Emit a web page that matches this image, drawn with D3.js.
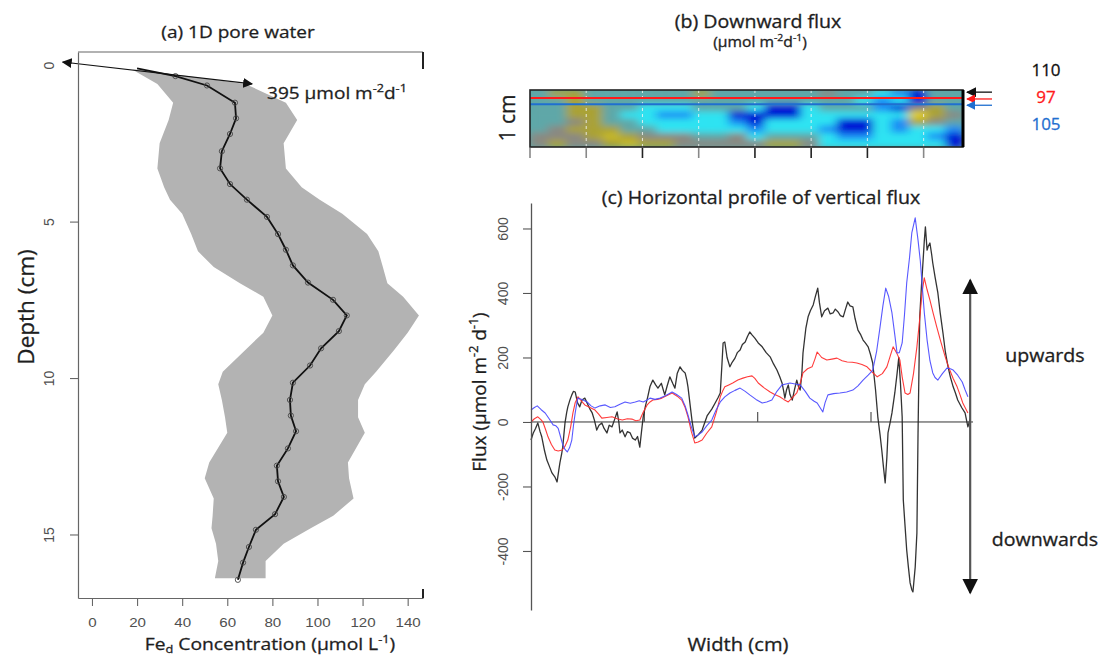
<!DOCTYPE html>
<html>
<head>
<meta charset="utf-8">
<script src="https://cdn.jsdelivr.net/npm/d3@7"></script>
<style>
  body { margin: 0; background: #fff; }
  svg { display: block; }
  .lbl { font-family: "Open Sans", Lato, sans-serif; fill: #1e1e1e; stroke: #1e1e1e; stroke-width: 0.3px; }
  .tick-r { font-family: "Liberation Sans", Arial, sans-serif; fill: #505050; font-size: 14px; }
  .tick-b { font-size: 13.5px; }
</style>
</head>
<body>
<svg id="chart" width="1099" height="657"></svg>
<script>
// ---------- (a) 1D pore water profile ----------
const profileDepth = [0.1, 0.35, 0.65, 1.2, 1.7, 2.2, 2.75, 3.3, 3.8, 4.3, 4.85, 5.4, 5.9, 6.4, 6.95, 7.5,
  8.0, 8.5, 9.05, 9.6, 10.15, 10.7, 11.2, 11.7, 12.25, 12.8, 13.3, 13.8, 14.35, 14.85, 15.4, 15.9, 16.45];
const profileConc = [20, 37, 51, 63.4, 63.9, 61.2, 57.6, 56.8, 61.2, 68.7, 77.6, 82.5, 86, 89.1, 95.8, 106.9,
  113, 109.5, 101.6, 96.7, 89.1, 87.8, 88.2, 90.5, 86.9, 82, 82.5, 85.1, 81.2, 72.7, 69.6, 67, 64.7];

const bandDepth = [0.15, 0.6, 1.2, 1.75, 2.5, 3.3, 3.9, 4.3, 4.75, 5.4, 5.95, 6.45, 6.97, 7.4, 8.0, 8.55,
  9.1, 9.8, 10.2, 10.7, 11.25, 11.75, 12.7, 13.2, 13.85, 14.4, 14.8, 15.3, 15.85, 16.4];
const bandLow = [18, 29, 36, 34, 30, 29, 32, 34.6, 40, 44, 47, 54, 65.6, 76, 80, 76,
  68, 58, 56, 57.6, 59, 60, 52, 50, 54, 53.5, 53, 55, 56, 54.5];
const bandHigh = [22, 68, 86, 91, 85, 86, 93, 101, 111, 122, 127, 129, 131, 138, 145, 140,
  134, 126, 121, 118, 118, 121, 113.5, 114, 116, 107, 97, 85, 77, 77];

const depthTicks = [0, 5, 10, 15];
const concTicks = [0, 20, 40, 60, 80, 100, 120, 140];
// surface gradient annotation (concentration, depth)
const gradientArrow = [[-13, -0.1], [71, 0.6]];

// ---------- (b) downward flux image ----------
// rows run from the sediment surface downwards, columns across the width
const heatGrid = [
  [0.6,-1,-1,0.6,0.6,0.6,0.6,0.6,0.6,-1,0.6,0.6,0.6,0.6,0.6,0.6,0,0.6,0.6,1.5,2.2,3,0.6,0.6],
  [0.6,0.6,-1,0.6,0.6,0.6,0.6,0.6,0.6,0.6,0.6,0.6,0.6,0.6,0.6,0.6,0.6,0.6,1.5,2.2,1.5,3,0.6,0.6],
  [0.6,0.6,-1,-1,0.6,0.6,1.5,1.5,1.5,0.6,0.6,0.6,1.5,3,3,1.5,0.6,0.6,0.6,2.2,3,0,-1,0.6],
  [0.6,0.6,-1,-1,0.6,1.5,1.5,2.2,2.2,1.5,1.5,3,3,3,3,1.5,1.5,1.5,1.5,1.5,1.5,-2,-1,0],
  [0.6,0.6,0,-1,0.6,0.6,1.5,1.5,1.5,1.5,1.5,2.2,3,1.5,1.5,1.5,1.5,3,3,1.5,2.2,-1,0,0.6],
  [0.6,0,-1,-1,-1,0.6,0.6,1.5,1.5,1.5,1.5,1.5,2.2,1.5,1.5,1.5,2.2,3,3,1.5,2.2,1.5,1.5,2.2],
  [0,0,0,-1,-1.5,-1,0,0,0,0.6,0.6,0,1.5,0.6,0.6,0.6,1.5,2.2,2.2,1.5,1.5,1.5,2.2,3],
  [0,-1,0,0,-1,-1.5,-1,-1,0,0,0,0,0,-1,-1,0,1.5,1.5,1.5,1.5,1.5,1.5,1.5,3]
];
const heatWidthCm = 7.7;
const heatTicks = [0, 1, 2, 3, 4, 5, 6, 7];
const sliceDepth = [0.02, 0.14, 0.25];          // cm below the surface
const sliceFlux = ["110", "97", "105"];
const sliceColor = ["#111111", "#ff1a1a", "#1f6fd0"];

// ---------- (c) horizontal profile of vertical flux ----------
const blackWidth = [0.00,0.04,0.08,0.12,0.16,0.19,0.24,0.28,0.33,0.37,0.42,0.46,0.49,0.51,0.54,0.56,0.58,0.60,0.63,0.65,
  0.69,0.72,0.75,0.78,0.82,0.86,0.90,0.95,1.00,1.04,1.08,1.12,1.16,1.20,1.25,1.29,1.34,1.38,1.43,1.47,
  1.52,1.55,1.57,1.61,1.66,1.70,1.75,1.79,1.84,1.88,1.92,1.95,1.98,2.02,2.06,2.10,2.15,2.20,2.24,2.30,
  2.36,2.40,2.45,2.50,2.54,2.58,2.63,2.67,2.72,2.75,2.77,2.81,2.84,2.89,2.95,3.02,3.07,3.11,3.19,3.25,
  3.30,3.34,3.37,3.39,3.42,3.46,3.51,3.55,3.60,3.64,3.69,3.73,3.78,3.82,3.86,3.90,3.95,4.01,4.08,4.15,
  4.22,4.28,4.34,4.39,4.43,4.46,4.48,4.51,4.54,4.57,4.61,4.65,4.69,4.72,4.75,4.78,4.80,4.85,4.89,4.93,
  4.98,5.02,5.06,5.09,5.13,5.18,5.24,5.28,5.33,5.37,5.42,5.46,5.51,5.55,5.59,5.63,5.68,5.72,5.77,5.82,
  5.86,5.90,5.95,5.99,6.03,6.08,6.12,6.16,6.19,6.22,6.25,6.28,6.30,6.34,6.37,6.42,6.46,6.49,6.52,6.55,
  6.57,6.60,6.63,6.66,6.69,6.72,6.74,6.78,6.81,6.83,6.86,6.89,6.92,6.94,6.96,6.99,7.01,7.04,7.07,7.09,
  7.13,7.18,7.22,7.27,7.31,7.36,7.40,7.45,7.49,7.53,7.60,7.66,7.71,7.75];
const blackFlux = [-56,-34,-20,-3,-30,-46,-90,-118,-140,-158,-170,-186,-150,-127,-100,-78,-40,-3,30,47,
  70,84,95,93,60,47,68,74,55,40,28,5,-25,-10,-3,-20,-34,-10,-15,5,
  31,0,-34,-25,-46,-30,-34,-50,-56,-45,-78,-30,16,50,78,110,130,115,105,120,
  84,110,140,120,105,150,171,160,152,130,109,50,6,-50,-40,-25,0,20,40,59,
  75,90,180,245,248,200,171,185,198,215,223,240,248,265,279,270,260,245,233,215,
  202,180,161,140,121,95,74,100,115,85,68,100,130,110,99,150,214,290,326,345,
  363,390,415,370,326,345,353,335,338,350,341,330,326,350,372,360,357,320,285,270,
  254,245,233,210,183,100,16,-40,-87,-140,-189,-110,-34,0,28,90,150,200,120,16,
  -242,-320,-397,-450,-499,-520,-527,-450,-344,-34,326,420,502,560,605,533,545,555,520,493,
  450,400,340,276,220,171,140,109,90,68,45,28,-15,10];

const redWidth = [0.00,0.06,0.12,0.17,0.21,0.26,0.30,0.36,0.42,0.48,0.55,0.60,0.65,0.70,0.74,0.78,0.83,0.89,0.95,1.04,
  1.13,1.19,1.25,1.34,1.43,1.52,1.61,1.70,1.78,1.85,1.92,1.98,2.05,2.10,2.15,2.23,2.31,2.40,2.49,2.58,
  2.66,2.72,2.77,2.83,2.89,2.95,3.02,3.10,3.19,3.27,3.34,3.38,3.42,3.49,3.56,3.65,3.74,3.82,3.90,3.95,
  4.01,4.12,4.22,4.30,4.39,4.46,4.54,4.61,4.69,4.75,4.80,4.88,4.96,5.01,5.05,5.13,5.22,5.31,5.40,5.49,
  5.58,5.67,5.75,5.84,5.93,6.02,6.11,6.20,6.28,6.34,6.39,6.45,6.51,6.55,6.60,6.65,6.69,6.75,6.81,6.86,
  6.90,6.94,6.99,7.04,7.10,7.16,7.23,7.31,7.35,7.39,7.45,7.52,7.57,7.62,7.66,7.71];
const redFlux = [0,10,16,8,0,-25,-46,-70,-87,-90,-87,-75,-56,-15,28,60,78,65,53,45,
  37,25,12,14,16,10,6,10,9,4,6,30,53,62,68,70,74,82,90,80,
  68,45,16,-30,-65,-62,-56,-35,-15,30,78,95,109,115,121,130,136,140,143,135,
  121,105,93,85,78,70,62,75,90,120,152,165,171,195,217,200,192,195,198,190,
  186,185,183,178,171,155,140,150,171,205,233,215,192,140,90,85,90,150,233,320,
  400,447,410,378,335,295,250,202,180,161,135,109,85,59,45,28];

const blueWidth = [0.00,0.06,0.11,0.18,0.25,0.32,0.39,0.44,0.48,0.52,0.56,0.60,0.64,0.68,0.72,0.75,0.78,0.81,0.83,0.90,
  0.99,1.06,1.13,1.22,1.31,1.40,1.48,1.57,1.66,1.75,1.84,1.91,1.98,2.05,2.10,2.19,2.28,2.38,2.49,2.57,
  2.66,2.72,2.77,2.83,2.89,2.95,3.02,3.10,3.19,3.26,3.34,3.42,3.51,3.60,3.69,3.78,3.86,3.97,4.08,4.16,
  4.25,4.34,4.43,4.50,4.57,4.66,4.75,4.84,4.92,4.99,5.05,5.10,5.15,5.19,5.24,5.34,5.45,5.57,5.68,5.77,
  5.86,5.95,6.03,6.10,6.16,6.21,6.26,6.31,6.37,6.42,6.46,6.50,6.55,6.59,6.63,6.68,6.72,6.78,6.83,6.87,
  6.90,6.94,6.99,7.04,7.09,7.13,7.18,7.26,7.34,7.40,7.45,7.53,7.61,7.66,7.71];
const blueFlux = [37,45,50,38,28,10,-9,-12,-20,-45,-70,-85,-93,-80,-56,-10,28,60,74,70,
  62,50,43,50,53,45,47,55,62,58,62,66,62,68,74,70,74,82,93,85,
  74,50,22,-15,-46,-40,-31,-12,6,35,62,78,90,98,105,95,84,70,59,62,
  68,95,115,118,121,118,115,95,74,65,59,45,31,60,84,88,90,93,99,112,
  130,145,160,220,295,360,415,390,338,270,214,215,245,330,431,510,586,633,564,500,
  431,340,254,190,152,138,130,150,167,165,161,145,124,100,78];

const fluxTicks = [-400, -200, 0, 200, 400, 600];
const widthTicksC = [2, 4, 6];
const directionArrow = { width: 7.75, top: 440, bottom: -530 };

// ================= drawing =================
const svg = d3.select("#chart");
const defs = svg.append("defs");
const SX = 1.12;   // horizontal stretch of the Calibri-like labels

function arrowMarker(id, color, size) {
  defs.append("marker")
    .attr("id", id).attr("viewBox", "0 0 10 10")
    .attr("refX", 9).attr("refY", 5)
    .attr("markerWidth", size).attr("markerHeight", size)
    .attr("markerUnits", "userSpaceOnUse")
    .attr("orient", "auto-start-reverse")
    .append("path").attr("d", "M0,0 L10,5 L0,10 Z").attr("fill", color);
}
arrowMarker("arrBlack", "#111", 10);
arrowMarker("arrBig", "#111", 16);
arrowMarker("arrRed", "#ff1a1a", 9);
arrowMarker("arrBlue", "#1f6fd0", 9);

// label with optional super/subscripts, placed at (x,y), optionally rotated
function label(parent, parts, size, opt) {
  const o = Object.assign({ anchor: "start", sx: SX, rotate: 0, fill: null }, opt);
  const tr = o.rotate ? `translate(${o.x},${o.y}) rotate(${o.rotate})` : `translate(${o.x},${o.y}) scale(${o.sx},1)`;
  const g = parent.append("g").attr("transform", tr);
  const t = g.append("text").attr("class", "lbl").attr("font-size", size).attr("text-anchor", o.anchor);
  if (o.fill) t.style("fill", o.fill).style("stroke", o.fill);
  if (typeof parts === "string") parts = [{ t: parts }];
  let shift = 0;
  parts.forEach(p => {
    const off = p.sup ? -0.4 * size : p.sub ? 0.15 * size : 0;
    t.append("tspan")
      .attr("dy", off - shift)
      .attr("font-size", (p.sup || p.sub) ? size * 0.66 : size)
      .text(p.t);
    shift = off;
  });
  return t;
}
const unitsM2D = (pre, sep, post) =>
  [{ t: pre + "m" }, { t: "-2", sup: true }, { t: sep + "d" }, { t: "-1", sup: true }, { t: post }];

// ---------- panel (a) ----------
const xA = d3.scaleLinear().domain([-6.2, 146.8]).range([78, 423]);
const yA = d3.scaleLinear().domain([-0.42, 17.03]).range([52, 598]);
const gA = svg.append("g");

const band = bandDepth.map((d, i) => ({ d, lo: bandLow[i], hi: bandHigh[i] }));
gA.append("path")
  .datum(band)
  .attr("fill", "#b3b3b3")
  .attr("d", d3.area().x0(d => xA(d.lo)).x1(d => xA(d.hi)).y(d => yA(d.d)));

const prof = profileDepth.map((d, i) => ({ d, c: profileConc[i] }));
gA.append("path")
  .datum(prof)
  .attr("fill", "none").attr("stroke", "#111").attr("stroke-width", 1.8)
  .attr("d", d3.line().x(d => xA(d.c)).y(d => yA(d.d)));
gA.selectAll("circle.pt").data(prof.slice(1)).join("circle")
  .attr("class", "pt")
  .attr("cx", d => xA(d.c)).attr("cy", d => yA(d.d)).attr("r", 2.6)
  .attr("fill", "none").attr("stroke", "#444").attr("stroke-width", 0.9);

gA.append("line")
  .attr("x1", xA(gradientArrow[0][0])).attr("y1", yA(gradientArrow[0][1]))
  .attr("x2", xA(gradientArrow[1][0])).attr("y2", yA(gradientArrow[1][1]))
  .attr("stroke", "#111").attr("stroke-width", 1.1)
  .attr("marker-start", "url(#arrBlack)").attr("marker-end", "url(#arrBlack)");

// axes
const axA_left = gA.append("g").attr("transform", `translate(${xA.range()[0]},0)`)
  .call(d3.axisLeft(yA).tickValues(depthTicks).tickSize(8).tickSizeOuter(0));
const axA_bottom = gA.append("g").attr("transform", `translate(0,${yA.range()[1]})`)
  .call(d3.axisBottom(xA).tickValues(concTicks).tickSize(8).tickSizeOuter(0).tickPadding(11));
[axA_left, axA_bottom].forEach(ax => {
  ax.select(".domain").attr("stroke", "#666").attr("stroke-width", 1.2);
  ax.selectAll(".tick line").attr("stroke", "#666").attr("stroke-width", 1.1);
  ax.selectAll(".tick text").attr("class", "tick-r").attr("font-size", null).attr("fill", null);
});
axA_left.selectAll(".tick text")
  .attr("x", 0).attr("dy", null)
  .attr("transform", "translate(-28,0) rotate(-90)")
  .attr("text-anchor", "middle").attr("dominant-baseline", "middle");
axA_left.selectAll(".tick").filter(d => d === 0).select("line").attr("opacity", 0);
axA_bottom.selectAll(".tick text").attr("class", "tick-r tick-b").attr("transform", `scale(${SX},1)`);

// frame pieces: top edge and right stubs
const [fx0, fx1] = xA.range();
const [fy0, fy1] = yA.range();
gA.append("line").attr("x1", fx0).attr("x2", fx1).attr("y1", fy0).attr("y2", fy0)
  .attr("stroke", "#666").attr("stroke-width", 1.2);
gA.append("line").attr("x1", fx1).attr("x2", fx1).attr("y1", fy0).attr("y2", fy0 + 17)
  .attr("stroke", "#222").attr("stroke-width", 2);
gA.append("line").attr("x1", fx1).attr("x2", fx1).attr("y1", fy1 - 9).attr("y2", fy1)
  .attr("stroke", "#222").attr("stroke-width", 2);

label(gA, "(a) 1D pore water", 17, { x: 238, y: 38, anchor: "middle" });
label(gA, unitsM2D("395 µmol ", "", ""), 17, { x: 267, y: 99 });
label(gA, "Depth (cm)", 22.5, { x: 34, y: 307, anchor: "middle", rotate: -90 });
label(gA, [{ t: "Fe" }, { t: "d", sub: true }, { t: " Concentration (µmol L" }, { t: "-1", sup: true }, { t: ")" }], 17.2,
  { x: 270, y: 650, anchor: "middle" });

// ---------- panel (b) ----------
const xB = d3.scaleLinear().domain([0, heatWidthCm]).range([530, 963]);
const yB = d3.scaleLinear().domain([0, 1]).range([90, 147]);
const gB = svg.append("g");
const nCols = heatGrid[0].length, nRows = heatGrid.length;
const colBand = d3.scaleBand().domain(d3.range(nCols)).range(xB.range());
const rowBand = d3.scaleBand().domain(d3.range(nRows)).range(yB.range());
const heatColor = d3.scaleLinear()
  .domain([-2, -1, 0, 0.6, 1.5, 2.2, 3])
  .range(["#e6d21c", "#aaa236", "#8a8982", "#5ea7a8", "#2ee3f2", "#1c8cf4", "#0612d6"])
  .interpolate(d3.interpolateRgb);

const f = defs.append("filter").attr("id", "soft")
  .attr("x", 0).attr("y", 0).attr("width", 1).attr("height", 1);
f.append("feGaussianBlur").attr("stdDeviation", "5 3").attr("edgeMode", "duplicate");
defs.append("clipPath").attr("id", "heatClip").append("rect")
  .attr("x", xB(0)).attr("y", yB(0)).attr("width", xB(heatWidthCm) - xB(0)).attr("height", yB(1) - yB(0));

const heatG = gB.append("g").attr("clip-path", "url(#heatClip)");
heatG.append("rect").attr("x", xB(0)).attr("y", yB(0))
  .attr("width", xB(heatWidthCm) - xB(0)).attr("height", yB(1) - yB(0)).attr("fill", heatColor(0.6));
const cells = heatG.append("g").attr("filter", "url(#soft)");
heatGrid.forEach((row, r) => {
  cells.selectAll(null).data(row).join("rect")
    .attr("x", (v, c) => colBand(c)).attr("y", rowBand(r))
    .attr("width", colBand.bandwidth() + 0.5).attr("height", rowBand.bandwidth() + 0.5)
    .attr("fill", v => heatColor(v));
});
// dashed grid at each cm
heatG.selectAll("line.grid").data(heatTicks.filter(t => t > 0)).join("line")
  .attr("x1", d => xB(d)).attr("x2", d => xB(d)).attr("y1", yB(0)).attr("y2", yB(1))
  .attr("stroke", "#f2f2f2").attr("stroke-width", 1).attr("stroke-dasharray", "3,3").attr("opacity", 0.85);
// slice lines (red, blue); black slice coincides with the surface edge
sliceDepth.forEach((d, i) => {
  if (i === 0) return;
  heatG.append("line").attr("x1", xB(0)).attr("x2", xB(heatWidthCm)).attr("y1", yB(d)).attr("y2", yB(d))
    .attr("stroke", sliceColor[i]).attr("stroke-width", 2.2);
});
gB.append("rect").attr("x", xB(0)).attr("y", yB(0))
  .attr("width", xB(heatWidthCm) - xB(0)).attr("height", yB(1) - yB(0))
  .attr("fill", "none").attr("stroke", "#222").attr("stroke-width", 1.6);
gB.append("line").attr("x1", xB(heatWidthCm)).attr("x2", xB(heatWidthCm)).attr("y1", yB(0)).attr("y2", yB(1))
  .attr("stroke", "#000").attr("stroke-width", 3);
// width ticks below the image
gB.selectAll("line.tk").data(heatTicks).join("line")
  .attr("x1", d => xB(d)).attr("x2", d => xB(d)).attr("y1", yB(1) + 1).attr("y2", yB(1) + 11)
  .attr("stroke", d => [2, 4, 5, 6].includes(d) ? "#222" : "#888").attr("stroke-width", 1.6);
// slice arrows and flux values
sliceDepth.forEach((d, i) => {
  gB.append("line").attr("x1", 992).attr("x2", 967).attr("y1", yB(d) + 1).attr("y2", yB(d) + 1)
    .attr("stroke", sliceColor[i]).attr("stroke-width", 1.3)
    .attr("marker-end", `url(#${["arrBlack", "arrRed", "arrBlue"][i]})`);
});
const sliceLabelY = [76, 103, 130];
sliceFlux.forEach((s, i) => {
  label(gB, s, 17, { x: 1046, y: sliceLabelY[i], anchor: "middle", sx: 1, fill: sliceColor[i] });
});
label(gB, "(b) Downward flux", 17.5, { x: 758, y: 28, anchor: "middle" });
label(gB, unitsM2D("(µmol ", "", ")"), 14, { x: 760, y: 47, anchor: "middle" });
label(gB, "1 cm", 21, { x: 515, y: 118, anchor: "middle", rotate: -90 });

// ---------- panel (c) ----------
const xC = d3.scaleLinear().domain([0, 7.8]).range([531, 973]);
const yC = d3.scaleLinear().domain([-583, 679]).range([610, 203]);
const gC = svg.append("g");

gC.append("line").attr("x1", xC(0)).attr("x2", xC(7.8)).attr("y1", yC(0)).attr("y2", yC(0))
  .attr("stroke", "#333").attr("stroke-width", 1);
gC.selectAll("line.zt").data(widthTicksC).join("line")
  .attr("x1", d => xC(d)).attr("x2", d => xC(d)).attr("y1", yC(0)).attr("y2", yC(0) - 10)
  .attr("stroke", "#555").attr("stroke-width", 1.2);

const series = [
  { w: blackWidth, v: blackFlux, color: "#222222", sw: 1.3 },
  { w: redWidth, v: redFlux, color: "#ff2a2a", sw: 1.1 },
  { w: blueWidth, v: blueFlux, color: "#4a4aff", sw: 1.1 }
];
const lineC = d3.line().x(d => xC(d[0])).y(d => yC(d[1]));
series.forEach(s => {
  gC.append("path")
    .datum(s.w.map((w, i) => [w, s.v[i]]))
    .attr("fill", "none").attr("stroke", s.color).attr("stroke-width", s.sw)
    .attr("stroke-linejoin", "round").attr("opacity", 0.92)
    .attr("d", lineC);
});

const axC = gC.append("g").attr("transform", `translate(${xC(0)},0)`)
  .call(d3.axisLeft(yC).tickValues(fluxTicks).tickSize(8).tickSizeOuter(0).tickFormat(d3.format("d")));
axC.select(".domain").attr("stroke", "#555").attr("stroke-width", 1.3);
axC.selectAll(".tick line").attr("stroke", "#555").attr("stroke-width", 1.1);
axC.selectAll(".tick text").attr("class", "tick-r").attr("font-size", null).attr("fill", null)
  .attr("x", 0).attr("dy", null)
  .attr("transform", "translate(-27,0) rotate(-90)")
  .attr("text-anchor", "middle").attr("dominant-baseline", "middle")
  .text(d => d < 0 ? "-" + Math.abs(d) : d);

gC.append("line")
  .attr("x1", xC(directionArrow.width)).attr("x2", xC(directionArrow.width))
  .attr("y1", yC(0)).attr("y2", yC(directionArrow.top))
  .attr("stroke", "#555").attr("stroke-width", 2.2).attr("marker-end", "url(#arrBig)");
gC.append("line")
  .attr("x1", xC(directionArrow.width)).attr("x2", xC(directionArrow.width))
  .attr("y1", yC(0)).attr("y2", yC(directionArrow.bottom))
  .attr("stroke", "#555").attr("stroke-width", 2.2).attr("marker-end", "url(#arrBig)");

label(gC, "upwards", 17.5, { x: 1045, y: 362, anchor: "middle" });
label(gC, "downwards", 17.5, { x: 1045, y: 546, anchor: "middle" });
label(gC, "(c) Horizontal profile of vertical flux", 17.5, { x: 761, y: 204, anchor: "middle" });
label(gC, unitsM2D("Flux (µmol ", " ", ")"), 19, { x: 486, y: 392, anchor: "middle", rotate: -90 });
label(gC, "Width (cm)", 18, { x: 738, y: 651, anchor: "middle" });
</script>
</body>
</html>
